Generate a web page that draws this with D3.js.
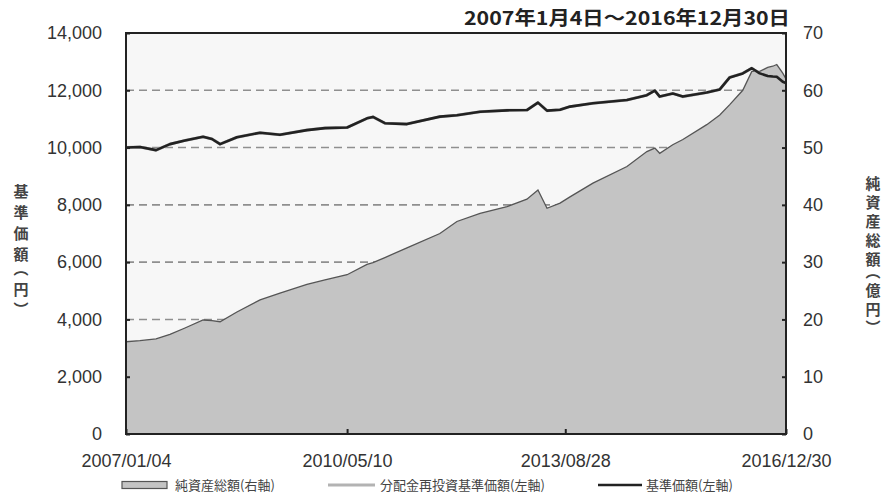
<!DOCTYPE html>
<html>
<head>
<meta charset="utf-8">
<script src="https://cdn.jsdelivr.net/npm/d3@7"></script>
<style>
  body { margin: 0; background: #fff; }
  text { font-family: "Liberation Sans", Arial, sans-serif; }
  .jp { font-family: "Noto Sans CJK JP", sans-serif; }
</style>
</head>
<body>
<div class="chart"></div>
<script>
// --- Data ---
const dates = [
  "2007/01/04", "2007/03/22", "2007/06/19", "2007/09/04", "2007/11/26",
  "2008/03/05", "2008/04/23", "2008/06/07", "2008/09/08", "2009/01/14",
  "2009/05/04", "2009/09/30", "2010/01/08", "2010/05/10", "2010/08/28",
  "2010/09/30", "2010/12/05", "2011/04/06", "2011/10/05", "2012/01/07",
  "2012/05/14", "2012/10/10", "2013/01/28", "2013/03/30", "2013/05/19",
  "2013/07/30", "2013/09/23", "2014/01/28", "2014/08/04", "2014/11/22",
  "2015/01/05", "2015/02/01", "2015/04/14", "2015/06/09", "2015/10/19",
  "2015/12/30", "2016/02/23", "2016/05/05", "2016/06/24", "2016/08/07",
  "2016/09/20", "2016/10/18", "2016/11/09", "2016/12/12", "2016/12/30"
];
// 基準価額 (円)
const nav = [
  10000, 10020, 9910, 10120, 10250,
  10380, 10300, 10120, 10360, 10520,
  10450, 10610, 10680, 10700, 11020,
  11070, 10850, 10820, 11080, 11130,
  11250, 11300, 11310, 11570, 11290,
  11320, 11430, 11545, 11660, 11830,
  11990, 11780, 11890, 11780, 11920,
  12030, 12450, 12590, 12770, 12590,
  12500, 12480, 12470, 12300, 12250
];
// 分配金再投資基準価額 (円) - no distributions, so it sits under the NAV line
const navReinvested = [
  10000, 10020, 9910, 10120, 10250,
  10380, 10300, 10120, 10360, 10520,
  10450, 10610, 10680, 10700, 11020,
  11070, 10850, 10820, 11080, 11130,
  11250, 11300, 11310, 11570, 11290,
  11320, 11430, 11545, 11660, 11830,
  11990, 11780, 11890, 11780, 11920,
  12030, 12450, 12590, 12770, 12590,
  12500, 12480, 12470, 12300, 12250
];
// 純資産総額 (億円)
const netAssets = [
  16.1, 16.3, 16.6, 17.4, 18.5,
  19.9, 19.8, 19.6, 21.3, 23.4,
  24.6, 26.1, 26.9, 27.8, 29.6,
  29.9, 30.8, 32.5, 35.0, 37.1,
  38.5, 39.7, 41.0, 42.6, 39.4,
  40.3, 41.4, 43.8, 46.7, 49.3,
  49.9, 49.0, 50.5, 51.4, 54.0,
  55.7, 57.5, 60.0, 63.3, 63.3,
  64.0, 64.2, 64.5, 63.0, 62.0
];
const leftTicks = [0, 2000, 4000, 6000, 8000, 10000, 12000, 14000];
const rightTicks = [0, 10, 20, 30, 40, 50, 60, 70];
const xTickLabels = ["2007/01/04", "2010/05/10", "2013/08/28", "2016/12/30"];
const titleText = "2007年1月4日～2016年12月30日";
const legendLabels = ["純資産総額(右軸)", "分配金再投資基準価額(左軸)", "基準価額(左軸)"];

// --- Layout ---
const viewW = 884, viewH = 493;
const margin = { top: 33, right: 98, bottom: 59, left: 126 };
const width = viewW - margin.left - margin.right;
const height = viewH - margin.top - margin.bottom;

const parse = d3.timeParse("%Y/%m/%d");
const rows = dates.map((d, i) => ({
  date: parse(d), nav: nav[i], re: navReinvested[i], assets: netAssets[i]
}));

const svg = d3.select(".chart").append("svg")
  .attr("width", viewW)
  .attr("height", viewH);

const g = svg.append("g").attr("transform", `translate(${margin.left},${margin.top})`);

const x = d3.scaleTime()
  .domain([parse(xTickLabels[0]), parse(xTickLabels[3])])
  .range([0, width]);
const yL = d3.scaleLinear().domain([0, 14000]).range([height, 0]);
const yR = d3.scaleLinear().domain([0, 70]).range([height, 0]);

// plot background
g.append("rect")
  .attr("width", width).attr("height", height)
  .attr("fill", "#f7f7f7");

// dashed grid
g.selectAll(".grid")
  .data(leftTicks.filter(v => v > 0 && v < 14000))
  .enter().append("line")
  .attr("x1", 0).attr("x2", width)
  .attr("y1", d => yL(d)).attr("y2", d => yL(d))
  .attr("stroke", "#8f8f8f")
  .attr("stroke-width", 1.6)
  .attr("stroke-dasharray", "8,5");

// net assets area
g.append("path")
  .datum(rows)
  .attr("fill", "#c4c4c4")
  .attr("stroke", "#555")
  .attr("stroke-width", 1.3)
  .attr("d", d3.area().x(d => x(d.date)).y0(height).y1(d => yR(d.assets)));

// reinvested NAV line
g.append("path")
  .datum(rows)
  .attr("fill", "none")
  .attr("stroke", "#b3b3b3")
  .attr("stroke-width", 3)
  .attr("d", d3.line().x(d => x(d.date)).y(d => yL(d.re)));

// NAV line
g.append("path")
  .datum(rows)
  .attr("fill", "none")
  .attr("stroke", "#222")
  .attr("stroke-width", 2.6)
  .attr("stroke-linejoin", "round")
  .attr("d", d3.line().x(d => x(d.date)).y(d => yL(d.nav)));

// frame
g.append("rect")
  .attr("width", width).attr("height", height)
  .attr("fill", "none")
  .attr("stroke", "#222")
  .attr("stroke-width", 2);

// axes
const styleAxis = sel => {
  sel.select(".domain").remove();
  sel.selectAll("line").attr("stroke", "#222").attr("stroke-width", 2);
  sel.selectAll("text").style("font-size", "18px").attr("fill", "#333")
    .style("font-family", "'Liberation Sans', Arial, sans-serif");
};

g.append("g")
  .call(d3.axisLeft(yL).tickValues(leftTicks).tickSizeInner(-4).tickSizeOuter(0)
    .tickPadding(24).tickFormat(d3.format(",")))
  .call(styleAxis);

g.append("g")
  .attr("transform", `translate(${width},0)`)
  .call(d3.axisRight(yR).tickValues(rightTicks).tickSizeInner(-4).tickSizeOuter(0)
    .tickPadding(17))
  .call(styleAxis);

g.append("g")
  .attr("transform", `translate(0,${height})`)
  .call(d3.axisBottom(x).tickValues(xTickLabels.map(parse)).tickSizeInner(-5)
    .tickSizeOuter(0).tickPadding(20).tickFormat(d3.timeFormat("%Y/%m/%d")))
  .call(styleAxis);

// title (date range)
svg.append("text")
  .attr("class", "jp")
  .attr("x", 790).attr("y", 25)
  .attr("text-anchor", "end")
  .attr("textLength", 326)
  .attr("lengthAdjust", "spacingAndGlyphs")
  .style("font-size", "19px")
  .style("font-weight", "bold")
  .attr("fill", "#222")
  .text(titleText);

// vertical axis titles
const vTitle = (txt, cx, cy, ls) => svg.append("text")
  .attr("class", "jp")
  .attr("x", cx).attr("y", cy)
  .attr("text-anchor", "middle")
  .style("writing-mode", "vertical-rl")
  .style("font-feature-settings", "'vpal' 1")
  .style("font-size", "15px")
  .style("letter-spacing", ls + "px")
  .style("font-weight", "bold")
  .attr("fill", "#444")
  .text(txt);
vTitle("基準価額（円）", 21, 250, 6);
vTitle("純資産総額（億円）", 873, 254, 4);

// legend
const legY = 485;
const leg = svg.append("g");
leg.append("rect")
  .attr("x", 122).attr("y", legY - 3.5).attr("width", 45).attr("height", 7)
  .attr("fill", "#c4c4c4").attr("stroke", "#555").attr("stroke-width", 1.2);
leg.append("line")
  .attr("x1", 328).attr("x2", 375).attr("y1", legY).attr("y2", legY)
  .attr("stroke", "#b3b3b3").attr("stroke-width", 3);
leg.append("line")
  .attr("x1", 598).attr("x2", 642).attr("y1", legY).attr("y2", legY)
  .attr("stroke", "#222").attr("stroke-width", 2.6);
[[175, 0], [380, 1], [646, 2]].forEach(([lx, i]) => {
  leg.append("text")
    .attr("class", "jp")
    .attr("x", lx).attr("y", legY)
    .attr("dy", "0.36em")
    .style("font-size", "13px")
    .attr("fill", "#444")
    .text(legendLabels[i]);
});
</script>
</body>
</html>
